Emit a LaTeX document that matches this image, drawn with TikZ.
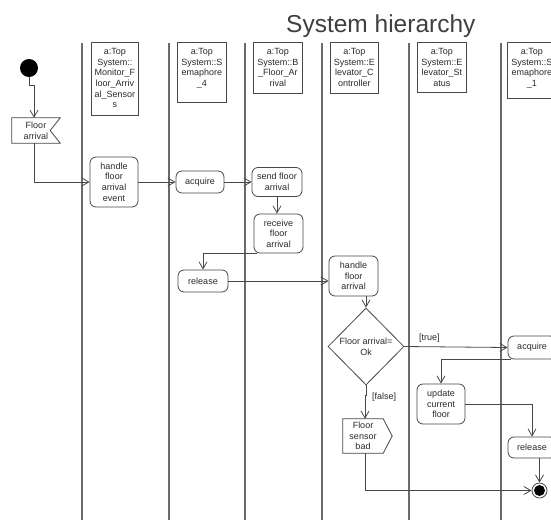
\documentclass[tikz,border=0pt]{standalone}
\usepackage{fontspec}
\setmainfont{Liberation Sans}
\usetikzlibrary{arrows.meta,shapes.geometric,calc}
\definecolor{ink}{HTML}{2A2A2A}
\definecolor{edge}{HTML}{484848}
\definecolor{lane}{HTML}{6A6A6A}
\newcommand{\lanefont}{\fontsize{9}{10.7}\selectfont}

\begin{document}
\begin{tikzpicture}[x=1pt,y=-1pt,
  every node/.style={text=ink, font=\lanefont, inner sep=0pt, align=center},
  lanerule/.style={draw=lane, line width=1.5pt},
  hdrbox/.style={draw=edge, line width=0.8pt, fill=white, anchor=north west},
  hdrtext/.style={anchor=north},
  act/.style={draw=edge, line width=0.8pt, rounded corners=6pt, fill=white},
  flow/.style={draw=edge, line width=0.8pt, -{Straight Barb[length=7pt,width=8pt]}},
  guard/.style={anchor=west}]

% canvas
\clip (0,0) rectangle (551,520);
\fill[white] (0,0) rectangle (551,520);

% title
\node[font=\fontsize{24.5}{28}\selectfont, text=ink!90, anchor=base west] (title) at (286,32) {System hierarchy};

% swimlane separators
\foreach \lx in {82,169,245,322,409,501}
  \draw[lanerule] (\lx,43) -- (\lx,520);

% lane headers
\node[hdrbox, minimum width=47pt, minimum height=73pt] (b1) at (91,42) {};
\node[hdrtext] (t1) at ([yshift=-6pt]b1.north) {a:Top\\System::\\Monitor\_F\\loor\_Arriv\\al\_Sensor\\s};
\node[hdrbox, minimum width=49pt, minimum height=60pt] (b2) at (177,42) {};
\node[hdrtext] (t2) at ([yshift=-6pt]b2.north) {a:Top\\System::S\\emaphore\\\_4};
\node[hdrbox, minimum width=49pt, minimum height=51pt] (b3) at (253,42) {};
\node[hdrtext] (t3) at ([yshift=-6pt]b3.north) {a:Top\\System::B\\\_Floor\_Ar\\rival};
\node[hdrbox, minimum width=48pt, minimum height=51pt] (b4) at (330,42) {};
\node[hdrtext] (t4) at ([yshift=-6pt]b4.north) {a:Top\\System::E\\levator\_C\\ontroller};
\node[hdrbox, minimum width=49pt, minimum height=50pt] (b5) at (417,42) {};
\node[hdrtext] (t5) at ([yshift=-6pt]b5.north) {a:Top\\System::E\\levator\_St\\atus};
\node[hdrbox, minimum width=49pt, minimum height=56pt] (b6) at (507,42) {};
\node[hdrtext] (t6) at ([yshift=-6pt]b6.north) {a:Top\\System::S\\emaphore\\\_1};

% initial and final states
\node[circle, fill=black, minimum size=18pt] (start) at (29,68) {};
\node[circle, draw=edge, line width=0.8pt, minimum size=15pt,
      path picture={\fill[black] (path picture bounding box.center) circle (5.5pt);}] (fin) at (539.5,490.5) {};

% accept event signal
\node[minimum width=48pt, minimum height=25pt] (fa) at (36,130.5) {Floor\\arrival};
\draw[draw=edge, line width=0.8pt] (fa.north west) -- (fa.north east) -- ([xshift=-10pt]fa.east)
  -- (fa.south east) -- (fa.south west) -- cycle;

% actions
\node[act, minimum width=48pt, minimum height=50pt] (h1) at (114,182) {handle\\floor\\arrival\\event};
\node[act, minimum width=48pt, minimum height=22pt] (acq1) at (200,182) {acquire};
\node[act, minimum width=50pt, minimum height=29pt] (send) at (277,182) {send floor\\arrival};
\node[act, minimum width=49pt, minimum height=39pt] (recv) at (278.5,233.5) {receive\\floor\\arrival};
\node[act, minimum width=50pt, minimum height=22pt] (rel1) at (203,281) {release};
\node[act, minimum width=49pt, minimum height=40pt] (h2) at (353.5,276) {handle\\floor\\arrival};
\node[act, minimum width=48pt, minimum height=23pt] (acq2) at (532,347.5) {acquire};
\node[act, minimum width=48pt, minimum height=40pt] (upd) at (441,404) {update\\current\\floor};
\node[act, minimum width=48pt, minimum height=21pt] (rel2) at (532,447.5) {release};

% decision
\node[diamond, draw=edge, line width=0.8pt, fill=white, minimum width=76pt, minimum height=77pt] (dia) at (366,346.5) {};
\node (diatext) at (dia.center) {Floor arrival=\\Ok};

% send signal
\node[minimum width=40pt, minimum height=34pt] (fsb) at (363,436) {Floor\\sensor\\bad};
\draw[draw=edge, line width=0.8pt] (fsb.north west) -- (fsb.north east) -- ([xshift=9pt]fsb.east)
  -- (fsb.south east) -- (fsb.south west) -- cycle;

% guards
\node[guard] (gtrue) at (419,338) {[true]};
\node[guard] (gfalse) at (372,397) {[false]};

% control flows
\draw[flow] (start.south) -- ++(0,8) -| ([xshift=-2pt]fa.north);
\draw[flow] ([xshift=-2pt]fa.south) |- (h1.west);
\draw[flow] (h1.east) -- (acq1.west);
\draw[flow] (acq1.east) -- (send.west);
\draw[flow] (send.south) -- (send.south |- recv.north);
\draw[flow] ([xshift=3pt]recv.south west) -| (rel1.north);
\draw[flow] (rel1.east) -- (rel1.east -| h2.west);
\draw[flow] (h2.south -| dia.north) -- (dia.north);
\draw[flow] (dia.south) -- ++(0,10) -| ([xshift=2pt]fsb.north);
\draw[flow] (dia.east) -- (acq2.west);
\draw[flow] ([xshift=3pt]acq2.south west) -| (upd.north);
\draw[flow] (upd.east) -| (rel2.north);
\draw[flow] (rel2.south -| fin.north) -- (fin.north);
\draw[flow] ([xshift=2pt]fsb.south) |- (fin.west);

\end{tikzpicture}
\end{document}
